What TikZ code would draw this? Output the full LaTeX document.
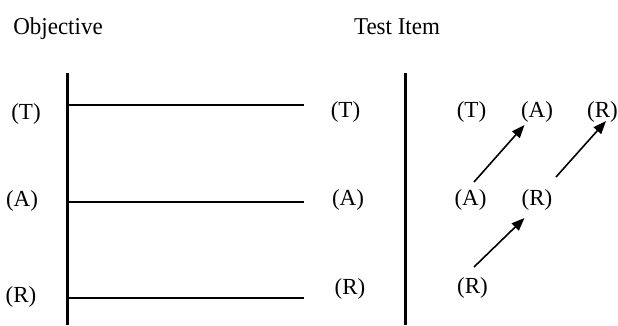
\documentclass[tikz,border=0pt]{standalone}
\usepackage{fontspec}
\setmainfont{Liberation Serif}
\usetikzlibrary{arrows.meta}
\begin{document}
\begin{tikzpicture}[x=1pt,y=-1pt,
  lbl/.style={inner sep=0pt,font=\fontsize{23}{27}\selectfont},
  head/.style={inner sep=0pt,anchor=base,font=\fontsize{23}{27}\selectfont,yscale=1.05},
  vline/.style={line width=3pt},
  hline/.style={line width=2pt},
  arr/.style={line width=1.6pt,-{Triangle[length=13pt,width=10pt]}}]
\useasboundingbox (0,0) rectangle (618,325);
% headings
\node[head] (obj) at (58,34) {Objective};
\node[head] (ti) at (397,34.5) {Test Item};
% vertical lines
\coordinate (lt) at (67,73); \coordinate (lb) at (67,325);
\coordinate (rt) at (405,73); \coordinate (rb) at (405,325);
\draw[vline] (lt) -- (lb);
\draw[vline] (rt) -- (rb);
% horizontal lines
\coordinate (h1a) at (67,105); \coordinate (h1b) at (304,105);
\coordinate (h2a) at (67,202); \coordinate (h2b) at (304,202);
\coordinate (h3a) at (67,298); \coordinate (h3b) at (304,298);
\draw[hline] (h1a) -- (h1b);
\draw[hline] (h2a) -- (h2b);
\draw[hline] (h3a) -- (h3b);
% left labels
\node[lbl] (lT) at (26,113.5) {(T)};
\node[lbl] (lA) at (22,201) {(A)};
\node[lbl] (lR) at (21,297) {(R)};
% middle labels
\node[lbl] (mT) at (345.5,112) {(T)};
\node[lbl] (mA) at (348,199.5) {(A)};
\node[lbl] (mR) at (350,288.5) {(R)};
% right grid
\node[lbl] (rT1) at (471.5,112) {(T)};
\node[lbl] (rA1) at (537,112) {(A)};
\node[lbl] (rR1) at (602.5,112) {(R)};
\node[lbl] (rA2) at (470.5,200) {(A)};
\node[lbl] (rR2) at (537,200) {(R)};
\node[lbl] (rR3) at (472.5,288) {(R)};
% arrows
\coordinate (s1) at (474,182); \coordinate (e1) at (524.5,125);
\coordinate (s2) at (556,177); \coordinate (e2) at (606,121);
\coordinate (s3) at (474,267); \coordinate (e3) at (524.5,218);
\draw[arr] (s1) -- (e1);
\draw[arr] (s2) -- (e2);
\draw[arr] (s3) -- (e3);
\end{tikzpicture}
\end{document}
